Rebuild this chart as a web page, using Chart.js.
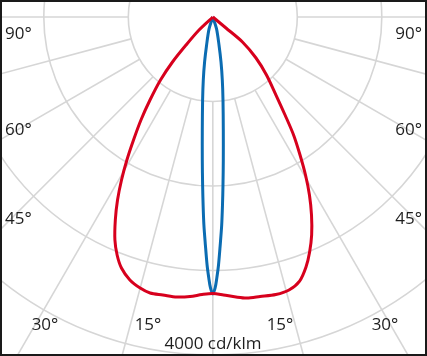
<!DOCTYPE html>
<html>
<head>
<meta charset="utf-8">
<script src="https://cdn.jsdelivr.net/npm/chart.js@4/dist/chart.umd.min.js"></script>
<style>
  html, body { margin: 0; padding: 0; background: #ffffff; }
  #wrap { width: 427px; height: 356px; position: relative; }
</style>
</head>
<body>
<div id="wrap"><canvas id="c" width="427" height="356"></canvas></div>
<script>
// ---- Data (angle from nadir in degrees, negative = left; intensity in cd/klm) ----
const redAngles = [-46.7, -43.7, -41.85, -39.7, -37.1, -34.9, -32.8, -31.0, -29.25, -27.5, -25.65, -23.7, -21.9, -20.0, -17.5, -15.0, -12.8, -10.2, -7.3, -4.66, -2.23, 0,
                   2.2, 4.74, 6.9, 9.6, 12.8, 15.6, 18.2, 20.45, 22.4, 24.4, 26.5, 28.5, 30.4, 32.3, 34.4, 36.4, 39.0, 42.8, 46.5, 49.9, 50.2];
const redValues = [224, 459, 715, 969, 1232, 1486, 1732, 1974, 2211, 2442, 2665, 2882, 3036, 3161, 3263, 3321, 3350, 3342, 3341, 3319, 3287, 3272,
                   3292, 3325, 3350, 3355, 3368, 3354, 3289, 3157, 3007, 2832, 2618, 2397, 2168, 1932, 1692, 1441, 1188, 935, 705, 459, 203];

const blueAngles = [-17.55, -12.5, -10.33, -8.58, -7.0, -5.31, -4.2, -3.47, -2.95, -2.45, -1.86, -1.32, -0.88, -0.49, 0,
                    0.49, 0.88, 1.32, 1.86, 2.45, 2.95, 3.47, 4.2, 5.31, 7.0, 8.58, 10.33, 12.5, 17.55];
const blueValues = [145, 339, 541, 754, 990, 1343, 1697, 1992, 2228, 2464, 2700, 2936, 3089, 3207, 3278,
                    3207, 3089, 2936, 2700, 2464, 2228, 1992, 1697, 1343, 990, 754, 541, 339, 145];

const circleValues = [1000, 2000, 3000, 4000, 5000];
const rayAngles = [-90, -75, -60, -45, -30, -15, 0, 15, 30, 45, 60, 75, 90];
const angleLabels = ['90°', '60°', '45°', '30°', '15°'];
const scaleLabel = '4000 cd/klm';

// ---- helpers ----
function toXY(angles, values) {
  const pts = [{x: 0, y: 0}];
  for (let i = 0; i < angles.length; i++) {
    const a = angles[i] * Math.PI / 180;
    pts.push({x: values[i] * Math.sin(a), y: -values[i] * Math.cos(a)});
  }
  pts.push({x: 0, y: 0});
  return pts;
}

const W = 427, H = 356;
const cx = 212.8, cy = 17;
const k = 84.5 / 1000; // px per cd/klm

const gridPlugin = {
  id: 'polarGrid',
  beforeDatasetsDraw(chart) {
    const ctx = chart.ctx;
    const xs = chart.scales.x, ys = chart.scales.y;
    const ox = xs.getPixelForValue(0), oy = ys.getPixelForValue(0);
    ctx.save();
    ctx.strokeStyle = '#d6d6d6';
    ctx.lineWidth = 1.6;
    circleValues.forEach(v => {
      const r = xs.getPixelForValue(v) - ox;
      ctx.beginPath();
      ctx.arc(ox, oy, r, 0, Math.PI * 2);
      ctx.stroke();
    });
    rayAngles.forEach(a => {
      const t = a * Math.PI / 180;
      const r0 = circleValues[0], r1 = 8000;
      ctx.beginPath();
      ctx.moveTo(xs.getPixelForValue(r0 * Math.sin(t)), ys.getPixelForValue(-r0 * Math.cos(t)));
      ctx.lineTo(xs.getPixelForValue(r1 * Math.sin(t)), ys.getPixelForValue(-r1 * Math.cos(t)));
      ctx.stroke();
    });
    ctx.restore();
  },
  afterDraw(chart) {
    const ctx = chart.ctx;
    ctx.save();
    ctx.fillStyle = '#1e1e1e';
    ctx.font = '17px "Open Sans", sans-serif';
    ctx.textBaseline = 'middle';
    const sideY = [34, 130, 219];
    ctx.textAlign = 'left';
    for (let i = 0; i < 3; i++) ctx.fillText(angleLabels[i], 5, sideY[i]);
    ctx.textAlign = 'right';
    for (let i = 0; i < 3; i++) ctx.fillText(angleLabels[i], 422, sideY[i]);
    ctx.textAlign = 'center';
    ctx.fillText(angleLabels[3], 45, 325);
    ctx.fillText(angleLabels[4], 148, 325);
    ctx.fillText(angleLabels[4], 280, 325);
    ctx.fillText(angleLabels[3], 385, 325);
    ctx.fillText(scaleLabel, 213, 344);
    ctx.strokeStyle = '#1a1a1a';
    ctx.lineWidth = 2;
    ctx.strokeRect(1, 1, W - 2, H - 2);
    ctx.restore();
  }
};

new Chart(document.getElementById('c'), {
  type: 'scatter',
  data: {
    datasets: [
      {
        data: toXY(redAngles, redValues),
        showLine: true,
        borderColor: '#d7001d',
        borderWidth: 3,
        pointRadius: 0,
        tension: 0.3,
        fill: false
      },
      {
        data: toXY(blueAngles, blueValues),
        showLine: true,
        borderColor: '#0b6cb2',
        borderWidth: 3,
        pointRadius: 0,
        tension: 0.3,
        fill: false
      }
    ]
  },
  options: {
    responsive: false,
    animation: false,
    devicePixelRatio: 1,
    layout: { padding: 0 },
    plugins: { legend: { display: false }, tooltip: { enabled: false } },
    scales: {
      x: { type: 'linear', display: false, min: -cx / k, max: (W - cx) / k },
      y: { type: 'linear', display: false, min: -(H - cy) / k, max: cy / k }
    }
  },
  plugins: [gridPlugin]
});
</script>
</body>
</html>
